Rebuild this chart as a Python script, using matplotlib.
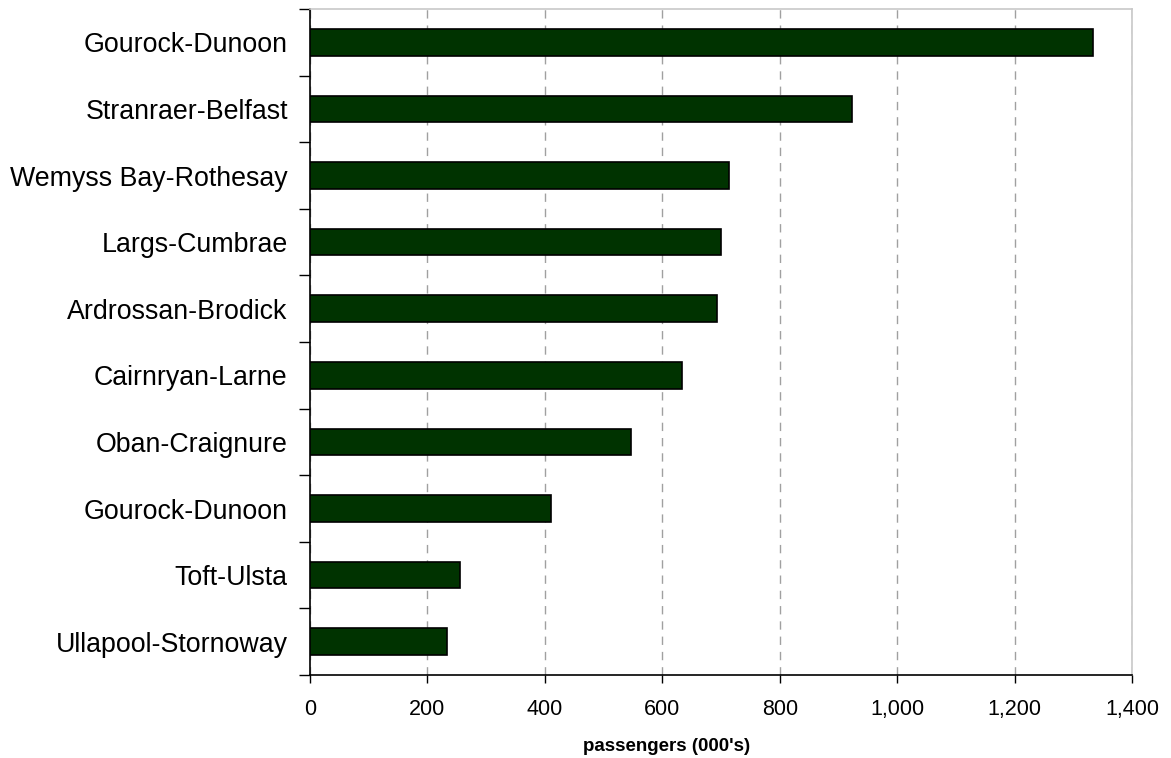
import matplotlib.pyplot as plt
from matplotlib.ticker import FuncFormatter

# routes listed top to bottom
routes = ["Gourock-Dunoon", "Stranraer-Belfast", "Wemyss Bay-Rothesay", "Largs-Cumbrae",
          "Ardrossan-Brodick", "Cairnryan-Larne", "Oban-Craignure", "Gourock-Dunoon",
          "Toft-Ulsta", "Ullapool-Stornoway"]
passengers = [1334, 923, 714, 700, 694, 633, 546, 411, 256, 233]
x_ticks = [0, 200, 400, 600, 800, 1000, 1200, 1400]

plt.rcParams["font.family"] = ["Liberation Sans", "DejaVu Sans"]

fig = plt.figure(figsize=(11.71, 7.58), dpi=100)
ax = fig.add_axes([0.2647, 0.1095, 0.7020, 0.8785])

n = len(routes)
ypos = list(range(n))
ax.barh(ypos, passengers, height=0.4, color="#003300", edgecolor="black", linewidth=1.2, zorder=3)

ax.set_ylim(n - 0.5, -0.5)
ax.set_xlim(0, 1400)

# category labels at centres, tick marks between categories
ax.set_yticks([i - 0.5 for i in range(n + 1)])
ax.set_yticklabels([])
ax.set_yticks(ypos, minor=True)
ax.set_yticklabels(routes, minor=True, fontsize=19.3)
ax.tick_params(axis="y", which="major", length=8, width=1, color="black")
ax.tick_params(axis="y", which="minor", length=0, pad=16)

ax.set_xticks(x_ticks)
ax.xaxis.set_major_formatter(FuncFormatter(lambda v, p: f"{int(v):,}"))
ax.tick_params(axis="x", length=6, width=1, labelsize=15.5, pad=11)

ax.grid(axis="x", color="#a0a0a0", linestyle=(0, (6, 5)), linewidth=1, zorder=0)

ax.spines["left"].set_color("black")
ax.spines["bottom"].set_color("black")
ax.spines["top"].set_color("#c8c8c8")
ax.spines["right"].set_color("#c8c8c8")
for s in ax.spines.values():
    s.set_linewidth(1.2)

ax.set_xlabel("passengers (000's)", fontsize=13.5, fontweight="bold")
ax.xaxis.set_label_coords(0.434, -0.095)

fig.savefig("out.png", dpi=100)
